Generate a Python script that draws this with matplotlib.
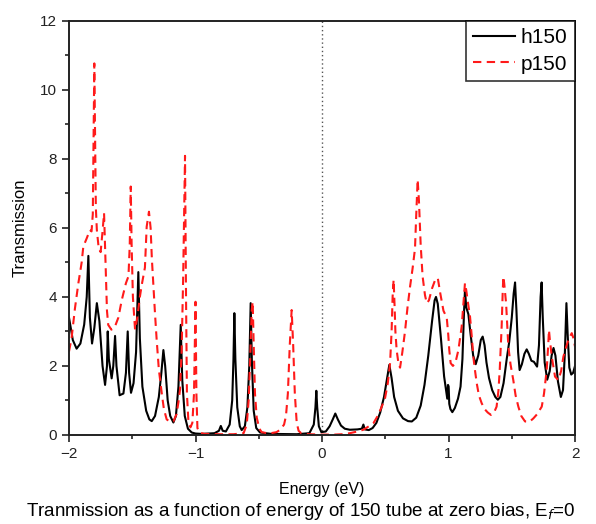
import matplotlib.pyplot as plt
from matplotlib.ticker import MultipleLocator

plt.rcParams['font.family'] = ['Liberation Sans', 'DejaVu Sans']

# h150 transmission
h150_energy = [
    -2.00, -1.97, -1.94, -1.91, -1.88, -1.86, -1.847, -1.835, -1.818, -1.80,
    -1.78, -1.76, -1.735, -1.715, -1.70, -1.694, -1.685, -1.663, -1.65, -1.636,
    -1.625, -1.60, -1.57, -1.55, -1.536, -1.525, -1.51, -1.49, -1.47, -1.452,
    -1.44, -1.42, -1.39, -1.365, -1.346, -1.32, -1.29, -1.27, -1.254, -1.24,
    -1.22, -1.20, -1.175, -1.155, -1.135, -1.117, -1.105, -1.085, -1.06, -1.03,
    -1.00, -0.95, -0.85, -0.815, -0.80, -0.785, -0.76, -0.73, -0.71, -0.70,
    -0.693, -0.685, -0.67, -0.65, -0.635, -0.61, -0.59, -0.575, -0.564, -0.555,
    -0.54, -0.52, -0.49, -0.40, -0.20, -0.10, -0.065, -0.052, -0.045, -0.038,
    -0.025, -0.005, 0.03, 0.06, 0.085, 0.105, 0.125, 0.15, 0.18, 0.22,
    0.28, 0.315, 0.327, 0.338, 0.37, 0.40, 0.43, 0.46, 0.49, 0.515,
    0.532, 0.55, 0.57, 0.60, 0.64, 0.68, 0.71, 0.745, 0.78, 0.81,
    0.84, 0.87, 0.89, 0.901, 0.915, 0.94, 0.965, 0.99, 0.996, 1.001,
    1.006, 1.015, 1.03, 1.05, 1.075, 1.095, 1.11, 1.122, 1.13, 1.14,
    1.157, 1.175, 1.195, 1.215, 1.235, 1.255, 1.27, 1.285, 1.30, 1.32,
    1.345, 1.37, 1.39, 1.41, 1.435, 1.46, 1.48, 1.50, 1.515, 1.526,
    1.537, 1.55, 1.562, 1.58, 1.60, 1.618, 1.635, 1.655, 1.675, 1.70,
    1.715, 1.728, 1.736, 1.745, 1.76, 1.78, 1.80, 1.815, 1.83, 1.845,
    1.865, 1.888, 1.905, 1.92, 1.932, 1.942, 1.955, 1.97, 1.985, 2.00,
]
h150_trans = [
    3.40, 2.75, 2.50, 2.65, 3.20, 4.00, 5.19, 3.40, 2.65, 3.10,
    3.82, 3.30, 2.00, 1.45, 2.00, 3.00, 2.20, 1.64, 2.00, 2.87,
    2.00, 1.15, 1.20, 1.80, 3.00, 1.80, 1.22, 1.50, 2.40, 4.72,
    2.80, 1.40, 0.70, 0.45, 0.40, 0.55, 1.10, 1.80, 2.46, 2.00,
    1.00, 0.55, 0.36, 0.55, 1.40, 3.19, 1.60, 0.55, 0.18, 0.07,
    0.04, 0.03, 0.05, 0.12, 0.26, 0.12, 0.10, 0.30, 1.00, 2.20,
    3.53, 2.20, 0.80, 0.25, 0.14, 0.25, 0.80, 2.00, 3.82, 2.20,
    0.70, 0.20, 0.07, 0.03, 0.02, 0.05, 0.30, 0.80, 1.28, 0.80,
    0.25, 0.08, 0.10, 0.25, 0.45, 0.62, 0.45, 0.27, 0.18, 0.15,
    0.16, 0.18, 0.30, 0.16, 0.14, 0.20, 0.35, 0.65, 1.10, 1.65,
    2.03, 1.65, 1.10, 0.70, 0.48, 0.40, 0.39, 0.50, 0.85, 1.45,
    2.30, 3.30, 3.90, 4.00, 3.80, 2.80, 1.70, 1.05, 1.45, 1.40,
    0.90, 0.75, 0.66, 0.78, 1.05, 1.40, 2.20, 3.50, 4.20, 3.70,
    3.50, 2.90, 2.30, 2.05, 2.30, 2.75, 2.85, 2.60, 2.10, 1.65,
    1.30, 1.10, 1.02, 1.10, 1.50, 2.20, 2.70, 3.40, 4.10, 4.42,
    3.60, 2.40, 1.88, 2.05, 2.35, 2.48, 2.35, 2.15, 2.12, 1.98,
    2.60, 4.00, 4.42, 3.40, 2.10, 1.60, 1.85, 2.30, 2.52, 2.30,
    1.55, 1.10, 1.30, 2.40, 3.82, 2.90, 1.95, 1.75, 1.80, 2.00,
]

# p150 transmission
p150_energy = [
    -2.00, -1.98, -1.953, -1.926, -1.90, -1.887, -1.86, -1.835, -1.822, -1.812,
    -1.80, -1.788, -1.78, -1.765, -1.75, -1.735, -1.723, -1.712, -1.70, -1.69,
    -1.665, -1.636, -1.61, -1.583, -1.55, -1.53, -1.52, -1.512, -1.505, -1.495,
    -1.478, -1.46, -1.44, -1.425, -1.40, -1.394, -1.386, -1.368, -1.355, -1.345,
    -1.334, -1.32, -1.307, -1.29, -1.267, -1.25, -1.228, -1.20, -1.175, -1.15,
    -1.135, -1.123, -1.11, -1.098, -1.083, -1.075, -1.068, -1.057, -1.04, -1.025,
    -1.012, -1.00, -0.993, -0.985, -0.97, -0.93, -0.80, -0.70, -0.62, -0.595,
    -0.58, -0.568, -0.556, -0.548, -0.54, -0.53, -0.516, -0.495, -0.477, -0.42,
    -0.36, -0.33, -0.30, -0.285, -0.27, -0.255, -0.24, -0.228, -0.215, -0.20,
    -0.185, -0.165, -0.10, 0.00, 0.10, 0.16, 0.22, 0.28, 0.327, 0.37,
    0.406, 0.44, 0.47, 0.498, 0.52, 0.538, 0.55, 0.558, 0.566, 0.574,
    0.58, 0.59, 0.605, 0.617, 0.635, 0.656, 0.676, 0.696, 0.715, 0.735,
    0.745, 0.756, 0.766, 0.78, 0.795, 0.814, 0.828, 0.845, 0.87, 0.895,
    0.915, 0.935, 0.96, 0.986, 0.998, 1.006, 1.017, 1.035, 1.055, 1.078,
    1.104, 1.12, 1.13, 1.14, 1.155, 1.17, 1.185, 1.196, 1.21, 1.223,
    1.24, 1.262, 1.285, 1.31, 1.335, 1.36, 1.38, 1.395, 1.405, 1.415,
    1.42, 1.428, 1.433, 1.44, 1.455, 1.465, 1.473, 1.49, 1.512, 1.53,
    1.552, 1.575, 1.605, 1.64, 1.671, 1.70, 1.72, 1.737, 1.755, 1.776,
    1.788, 1.794, 1.80, 1.816, 1.842, 1.868, 1.89, 1.908, 1.93, 1.947,
    1.974, 1.988, 2.00,
]
p150_trans = [
    2.42, 2.80, 3.67, 4.40, 5.00, 5.46, 5.70, 5.94, 5.90, 6.40,
    10.77, 6.60, 5.94, 5.40, 5.30, 5.90, 6.43, 5.10, 3.60, 3.19,
    3.05, 3.15, 3.40, 3.91, 4.40, 4.60, 5.50, 7.20, 5.50, 4.00,
    3.05, 3.40, 4.00, 4.35, 4.85, 5.36, 6.04, 6.47, 6.00, 5.10,
    4.40, 3.50, 2.75, 1.90, 1.21, 0.75, 0.45, 0.38, 0.39, 0.60,
    0.95, 1.30, 2.40, 4.50, 8.09, 4.00, 1.20, 0.45, 0.22, 0.35,
    1.20, 3.86, 1.20, 0.20, 0.07, 0.03, 0.02, 0.02, 0.05, 0.30,
    1.00, 2.20, 3.60, 3.86, 2.60, 1.20, 0.50, 0.18, 0.08, 0.04,
    0.08, 0.15, 0.30, 0.55, 1.20, 2.60, 3.62, 2.60, 1.20, 0.35,
    0.12, 0.05, 0.02, 0.01, 0.01, 0.02, 0.05, 0.10, 0.15, 0.25,
    0.34, 0.55, 0.80, 1.06, 1.50, 2.08, 3.00, 4.00, 4.50, 3.70,
    3.00, 2.46, 2.05, 1.95, 2.40, 3.00, 3.70, 4.30, 4.80, 5.40,
    6.40, 7.40, 6.80, 5.50, 4.60, 4.05, 3.82, 3.90, 4.25, 4.50,
    4.55, 4.10, 3.60, 3.40, 2.90, 2.46, 2.08, 2.00, 2.10, 2.46,
    3.14, 3.90, 4.40, 4.20, 3.80, 3.43, 2.80, 2.27, 1.85, 1.50,
    1.15, 0.92, 0.75, 0.65, 0.58, 0.65, 0.82, 1.30, 1.90, 2.70,
    3.14, 4.10, 4.59, 4.40, 3.82, 3.10, 2.56, 2.05, 1.59, 1.15,
    0.82, 0.55, 0.39, 0.38, 0.48, 0.60, 0.72, 0.82, 1.20, 1.88,
    2.60, 3.04, 2.80, 2.27, 1.69, 1.59, 1.85, 2.27, 2.55, 2.75,
    2.95, 2.80, 2.56,
]

fig = plt.figure(figsize=(5.96, 5.24), dpi=100)
ax = fig.add_axes([0.1158, 0.170, 0.849, 0.790])

ax.axvline(0, color='#555555', linestyle=(0, (1, 2)), linewidth=1.0)
ax.plot(h150_energy, h150_trans, color='black', linewidth=1.5, label='h150')
ax.plot(p150_energy, p150_trans, color='#ff1a1a', linewidth=1.5,
        linestyle=(0, (4, 2.6)), label='p150')

ax.set_xlim(-2, 2)
ax.set_ylim(0, 12)
ax.xaxis.set_major_locator(MultipleLocator(1))
ax.xaxis.set_minor_locator(MultipleLocator(0.5))
ax.yaxis.set_major_locator(MultipleLocator(2))
ax.yaxis.set_minor_locator(MultipleLocator(1))
ax.tick_params(which='both', direction='out', top=False, right=False,
               labelsize=11, width=1.2, colors='#222222')
ax.tick_params(which='major', length=5)
ax.tick_params(which='minor', length=3)
for spine in ax.spines.values():
    spine.set_linewidth(1.4)
    spine.set_color('#222222')

ax.set_xlabel('Energy (eV)', fontsize=11.5, labelpad=15)
ax.set_ylabel('Transmission', fontsize=12, labelpad=9)

leg = ax.legend(loc='upper right', fontsize=15, frameon=True, fancybox=False,
                borderaxespad=0, handlelength=2.0, handletextpad=0.3,
                labelspacing=0.35, borderpad=0.35)
leg.get_frame().set_edgecolor('black')
leg.get_frame().set_linewidth(1.2)

fig.text(0.505, 0.004, 'Tranmission as a function of energy of 150 tube at zero bias, E$_f$=0',
         ha='center', va='bottom', fontsize=13.5)

fig.savefig('out.png', dpi=100)
